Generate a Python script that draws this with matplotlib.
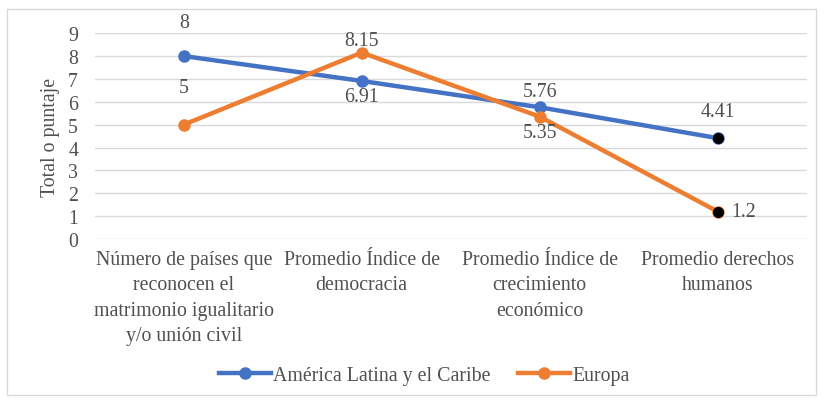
import matplotlib.pyplot as plt
from matplotlib.patches import Rectangle

categories = ['Número de países que\nreconocen el\nmatrimonio igualitario\ny/o unión civil',
              'Promedio Índice de\ndemocracia',
              'Promedio Índice de\ncrecimiento\neconómico',
              'Promedio derechos\nhumanos']
latam = [8, 6.91, 5.76, 4.41]
europa = [5, 8.15, 5.35, 1.2]
latam_labels = ['8', '6.91', '5.76', '4.41']
europa_labels = ['5', '8.15', '5.35', '1.2']

plt.rcParams['font.family'] = ['Liberation Serif', 'DejaVu Serif']
text_color = '#505050'

fig = plt.figure(figsize=(8.24, 4.02), dpi=100)
ax = fig.add_axes([0.115, 0.403, 0.864, 0.512])

fig.patches.append(Rectangle((0.009, 0.015), 0.981, 0.96, transform=fig.transFigure,
                             fill=False, edgecolor='#d9d9d9', linewidth=1))

x = list(range(len(categories)))
blue = '#4472C4'
orange = '#ED7D31'

ax.plot(x, latam, color=blue, linewidth=3.2, marker='o', markersize=8,
        label='América Latina y el Caribe', zorder=3)
ax.plot(x, europa, color=orange, linewidth=3.2, marker='o', markersize=8,
        label='Europa', zorder=3)
# last points have dark markers
ax.plot(x[-1], latam[-1], 'o', color='black', markersize=7, zorder=4)
ax.plot(x[-1], europa[-1], 'o', color='black', markersize=7, zorder=4)

fs = 14.3
# data label offsets (points, vertical)
dy_latam = [24, -11.5, 11.5, 19]
dy_europa = [27, 9, -11.5]
for i, lab in enumerate(latam_labels):
    ax.annotate(lab, (i, latam[i]), xytext=(0, dy_latam[i]), textcoords='offset points',
                ha='center', va='center', fontsize=fs, color=text_color)
for i in range(3):
    ax.annotate(europa_labels[i], (i, europa[i]), xytext=(0, dy_europa[i]),
                textcoords='offset points',
                ha='center', va='center', fontsize=fs, color=text_color)
ax.annotate(europa_labels[3], (3, europa[3]), xytext=(10, 0), textcoords='offset points',
            ha='left', va='center', fontsize=fs, color=text_color)

ax.set_xlim(-0.5, 3.5)
ax.set_ylim(0, 9)
ax.set_yticks(range(0, 10))
ax.set_xticks(x)
ax.set_xticklabels(categories, fontsize=fs, color=text_color, linespacing=1.45)
ax.tick_params(axis='y', labelsize=fs, labelcolor=text_color, length=0, pad=12)
ax.tick_params(axis='x', length=0, pad=8)
ax.grid(axis='y', color='#d9d9d9', linewidth=1)
ax.set_axisbelow(True)
for s in ax.spines.values():
    s.set_visible(False)
ax.set_ylabel('Total o puntaje', fontsize=fs, color=text_color, labelpad=6)

ax.legend(loc='center', bbox_to_anchor=(0.463, -0.665), ncol=2, frameon=False,
          fontsize=fs, labelcolor=text_color, handlelength=2.6, handletextpad=0.1,
          columnspacing=1.4)

fig.savefig('out.png', dpi=100, facecolor='white')
